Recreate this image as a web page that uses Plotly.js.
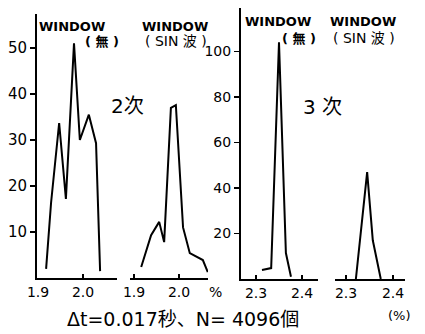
<!DOCTYPE html>
<html><head><meta charset="utf-8">
<script src="https://cdn.plot.ly/plotly-3.0.1.min.js"></script>
<style>html,body{margin:0;padding:0;background:#fff}#c{width:425px;height:334px}</style>
</head><body><div id="c"></div>
<script>
// Panel 1: 2次, WINDOW(無)
const p1x = [1.918, 1.929, 1.947, 1.962, 1.980, 1.993, 2.013, 2.029, 2.038];
const p1y = [2, 16.3, 33.7, 17.2, 51, 30, 35.5, 29.3, 1.5];
// Panel 2: 2次, WINDOW(SIN波)
const p2x = [1.916, 1.938, 1.956, 1.967, 1.982, 1.993, 2.009, 2.024, 2.053, 2.064];
const p2y = [2.4, 9.3, 12.2, 7.8, 37, 37.6, 11, 5.4, 3.9, 1.3];
// Panel 3: 3次, WINDOW(無)
const p3x = [2.313, 2.333, 2.350, 2.365, 2.376];
const p3y = [4, 4.8, 104, 11.4, 1];
// Panel 4: 3次, WINDOW(SIN波)
const p4x = [2.321, 2.345, 2.357, 2.374];
const p4y = [0, 47, 17, 0];

const yTicks2 = [10, 20, 30, 40, 50];
const yTicks3 = [20, 40, 60, 80, 100];
const xTicks2 = [1.9, 2.0];
const xTickText2 = ['1.9', '2.0'];
const xTicks3 = [2.3, 2.4];
const xTickText3 = ['2.3', '2.4'];

const W = 425, H = 334;
const px = v => v / W;
const py = v => 1 - v / H;

const line = {color: '#000', width: 2};
const traces = [
  {x: p1x, y: p1y, xaxis: 'x', yaxis: 'y', mode: 'lines', line: line},
  {x: p2x, y: p2y, xaxis: 'x2', yaxis: 'y2', mode: 'lines', line: line},
  {x: p3x, y: p3y, xaxis: 'x3', yaxis: 'y3', mode: 'lines', line: line},
  {x: p4x, y: p4y, xaxis: 'x4', yaxis: 'y4', mode: 'lines', line: line}
];

const tickFont = {family: 'DejaVu Sans', size: 14, color: '#000'};
function xa(dom, rng, vals, txt, anchor) {
  return {domain: [px(dom[0]), px(dom[1])], range: rng, anchor: anchor,
    showline: true, linewidth: 2, linecolor: '#000', showgrid: false, zeroline: false,
    tickmode: 'array', tickvals: vals, ticktext: txt, ticks: 'inside', ticklen: 4,
    tickwidth: 1.5, tickcolor: '#000', tickfont: tickFont, fixedrange: true};
}
function ya(dom, rng, vals, show, anchor, fs) {
  return {domain: [py(dom[1]), py(dom[0])], range: rng, anchor: anchor,
    visible: show, showline: true, linewidth: 2, linecolor: '#000', showgrid: false,
    zeroline: false, tickmode: 'array', tickvals: vals, ticks: 'outside', ticklen: 5,
    tickwidth: 1.5, tickcolor: '#000', tickfont: {family: 'DejaVu Sans', size: fs, color: '#000'},
    fixedrange: true};
}

const layout = {
  width: W, height: H, margin: {l: 0, r: 0, t: 0, b: 0},
  paper_bgcolor: '#fff', plot_bgcolor: 'rgba(0,0,0,0)', showlegend: false,
  xaxis: xa([37, 117], [1.89778, 2.07556], xTicks2, xTickText2, 'y'),
  xaxis2: xa([130, 208], [1.89111, 2.06444], xTicks2, xTickText2, 'y2'),
  xaxis3: xa([241, 318], [2.26739, 2.43478], xTicks3, xTickText3, 'y3'),
  xaxis4: xa([335, 405], [2.27660, 2.42553], xTicks3, xTickText3, 'y4'),
  yaxis: ya([14, 278], [0, 57.39], yTicks2, true, 'x', 15),
  yaxis2: ya([14, 278], [0, 57.39], yTicks2, false, 'x2', 15),
  yaxis3: ya([8, 279], [0, 119.12], yTicks3, true, 'x3', 14),
  yaxis4: ya([8, 279], [0, 119.12], yTicks3, false, 'x4', 14),
  annotations: []
};
function ann(text, x, y, size, fam, bold) {
  layout.annotations.push({text: bold ? '<b>' + text + '</b>' : text, x: px(x), y: py(y),
    xref: 'paper', yref: 'paper', showarrow: false, xanchor: 'center', yanchor: 'middle',
    font: {family: fam, size: size, color: '#000'}});
}
const cjk = 'DejaVu Sans, Noto Sans CJK JP';
ann('WINDOW', 72, 26, 13, 'DejaVu Sans', true);
ann('( 無 )', 102, 41, 13, cjk, true);
ann('WINDOW', 175, 26, 13, 'DejaVu Sans', true);
ann('( SIN 波 )', 176, 41, 14, cjk, false);
ann('WINDOW', 278, 21, 13, 'DejaVu Sans', true);
ann('( 無 )', 299, 38, 13, cjk, true);
ann('WINDOW', 363, 21, 13, 'DejaVu Sans', true);
ann('( SIN 波 )', 364, 38, 14, cjk, false);
ann('2次', 128, 106, 20, cjk, false);
ann('3 次', 322, 107, 20, cjk, false);
ann('%', 215, 292, 14, 'DejaVu Sans', false);
ann('(%)', 399, 315, 13, 'DejaVu Sans', false);
ann('Δt=0.017秒、N= 4096個', 183, 319, 19, cjk, false);

Plotly.newPlot('c', traces, layout, {staticPlot: true, displayModeBar: false});
</script></body></html>
